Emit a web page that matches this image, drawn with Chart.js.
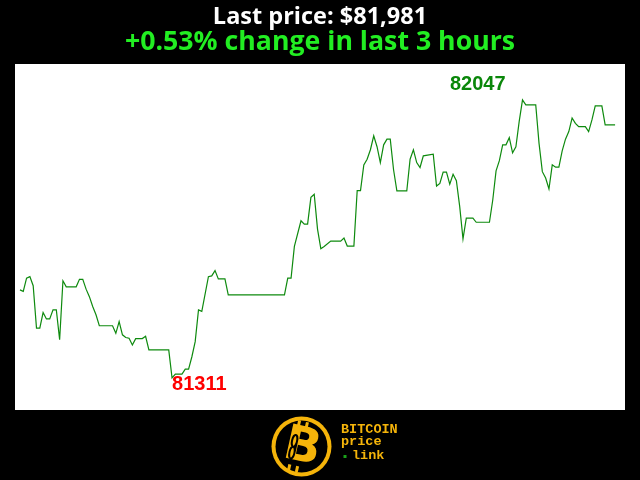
<!DOCTYPE html>
<html>
<head>
<meta charset="utf-8">
<script src="https://cdn.jsdelivr.net/npm/chart.js@4"></script>
<style>
  html, body { margin: 0; padding: 0; background: #000; }
  #c { display: block; }
</style>
</head>
<body>
<canvas id="c" width="640" height="480"></canvas>
<script>
const titleText = "Last price: $81,981";
const subtitleText = "+0.53% change in last 3 hours";

// minutes since start of the 3-hour window
const minutes = [0,1,2,3,4,5,6,7,8,9,10,11,12,13,14,17,18,19,20,21,
  22,23,24,28,29,30,31,32,33,34,35,37,38,39,45,46,47,49,50,51,
  52,53,54,55,57,58,59,60,62,63,80,81,82,83,85,86,87,88,89,90,
  91,92,94,97,98,99,101,102,103,104,105,106,107,108,109,110,111,112,113,114,
  117,118,119,120,121,122,125,126,127,128,129,130,131,132,133,134,135,137,138,142,
  143,144,145,146,147,148,149,150,151,152,153,156,157,158,159,160,161,162,163,164,
  165,166,167,168,169,171,172,173,174,176,177,180];

// BTC price (USD)
const prices = [81544,81540,81575,81579,81555,81443,81443,81484,81467,81467,81491,81491,81412,81568,81552,81552,81572,81572,81546,81526,
  81500,81478,81449,81449,81429,81460,81425,81418,81416,81398,81415,81415,81421,81385,81385,81311,81321,81321,81334,81334,
  81367,81407,81491,81487,81579,81581,81595,81573,81573,81531,81531,81575,81575,81659,81727,81718,81718,81789,81797,81705,
  81653,81659,81673,81673,81681,81660,81660,81807,81807,81875,81890,81915,81952,81923,81881,81928,81943,81943,81862,81806,
  81806,81890,81915,81881,81868,81899,81903,81819,81826,81856,81856,81824,81850,81833,81765,81679,81734,81734,81723,81723,
  81782,81859,81886,81928,81928,81947,81907,81923,81990,82047,82034,82034,81932,81857,81840,81811,81875,81869,81869,81912,
  81943,81963,81999,81985,81976,81976,81963,81994,82031,82031,81981,81981];

const points = minutes.map((m, i) => ({ x: m, y: prices[i] }));

const bgPlugin = {
  id: 'bg',
  beforeDraw(chart) {
    const { ctx, chartArea: a } = chart;
    ctx.save();
    ctx.fillStyle = '#000';
    ctx.fillRect(0, 0, chart.width, chart.height);
    ctx.fillStyle = '#fff';
    ctx.fillRect(a.left, a.top, a.right - a.left, a.bottom - a.top);
    ctx.restore();
  }
};

const extremaPlugin = {
  id: 'extrema',
  afterDatasetsDraw(chart) {
    const { ctx } = chart;
    const meta = chart.getDatasetMeta(0);
    let maxI = 0, minI = 0;
    prices.forEach((p, i) => {
      if (p > prices[maxI]) maxI = i;
      if (p < prices[minI]) minI = i;
    });
    const pMax = meta.data[maxI], pMin = meta.data[minI];
    ctx.save();
    ctx.font = 'bold 20px "Liberation Sans", Arial, sans-serif';
    ctx.textBaseline = 'middle';
    ctx.fillStyle = '#0a870a';
    ctx.textAlign = 'right';
    ctx.fillText(String(prices[maxI]), pMax.x - 17, pMax.y - 15);
    ctx.fillStyle = '#ff0000';
    ctx.textAlign = 'left';
    ctx.fillText(String(prices[minI]), pMin.x, pMin.y + 7);
    ctx.restore();
  }
};

const logoPlugin = {
  id: 'logo',
  afterDraw(chart) {
    const { ctx } = chart;
    const gold = '#f5b40a';
    const cx = 301.5, cy = 446.5;
    ctx.save();
    ctx.fillStyle = gold;
    ctx.beginPath(); ctx.arc(cx, cy, 30, 0, Math.PI * 2); ctx.fill();
    ctx.fillStyle = '#000';
    ctx.beginPath(); ctx.arc(cx, cy, 26, 0, Math.PI * 2); ctx.fill();
    ctx.translate(cx, cy);
    ctx.rotate(0.22);
    ctx.fillStyle = gold;
    ctx.font = 'bold 48px "DejaVu Sans", sans-serif';
    ctx.textAlign = 'center';
    ctx.textBaseline = 'middle';
    ctx.fillText('B', 1, 2);
    ctx.fillRect(-9, -25, 3, 6);
    ctx.fillRect(-1, -25, 3, 6);
    ctx.fillRect(-9, 20, 3, 6);
    ctx.fillRect(-1, 20, 3, 6);
    ctx.strokeStyle = '#000';
    ctx.lineWidth = 2;
    ctx.beginPath();
    ctx.ellipse(-8, -4, 2.5, 6, 0, 0, Math.PI * 2);
    ctx.ellipse(-8, 8, 2.5, 6, 0, 0, Math.PI * 2);
    ctx.stroke();
    ctx.setTransform(1, 0, 0, 1, 0, 0);
    ctx.fillStyle = gold;
    ctx.font = 'bold 13.5px "Liberation Mono", "DejaVu Sans Mono", monospace';
    ctx.textAlign = 'left';
    ctx.textBaseline = 'middle';
    ctx.fillText('BITCOIN', 341, 429.5);
    ctx.fillText('price', 341, 442);
    ctx.fillText('link', 352, 456);
    ctx.fillStyle = '#1aa01a';
    ctx.fillRect(343.5, 455, 3, 3);
    ctx.restore();
  }
};

new Chart(document.getElementById('c'), {
  type: 'line',
  data: {
    datasets: [{
      data: points,
      borderColor: '#0e8a0e',
      borderWidth: 1.2,
      pointRadius: 0,
      tension: 0,
      fill: false
    }]
  },
  options: {
    responsive: false,
    animation: false,
    devicePixelRatio: 1,
    layout: { padding: { left: 15, right: 15, top: 0, bottom: 70 } },
    scales: {
      x: { type: 'linear', min: -1.5, max: 183, display: false },
      y: { type: 'linear', min: 81226, max: 82142, display: false }
    },
    plugins: {
      legend: { display: false },
      tooltip: { enabled: false },
      title: {
        display: true,
        text: titleText,
        color: '#ffffff',
        font: { family: '"Open Sans", sans-serif', size: 23.5, weight: 'bold', lineHeight: 1.0 },
        padding: { top: 5.5, bottom: 0 }
      },
      subtitle: {
        display: true,
        text: subtitleText,
        color: '#22ee22',
        font: { family: '"Open Sans", sans-serif', size: 26.7, weight: 'bold', lineHeight: 1.0 },
        padding: { top: 0, bottom: 8.3 }
      }
    }
  },
  plugins: [bgPlugin, extremaPlugin, logoPlugin]
});
</script>
</body>
</html>
